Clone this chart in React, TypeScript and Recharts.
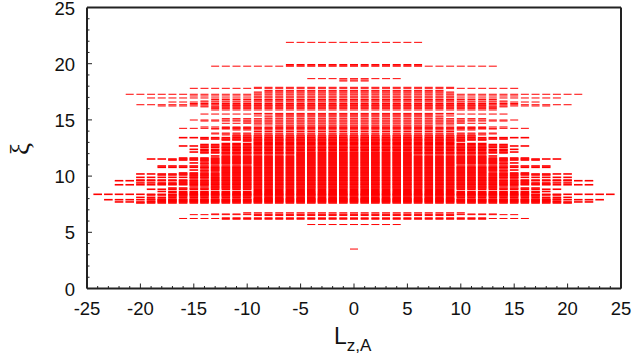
import React from 'react';
import { ScatterChart, Scatter, XAxis, YAxis, ReferenceLine, Label } from 'recharts';

// each row of dashes sits at one xi value and runs over integer Lz from -span to +span
const XI_ROWS = [
  21.9, 19.93, 19.82, 19.78, 18.67, 18.55, 18.46, 17.9, 17.81, 17.57, 17.48, 17.28, 17.13, 16.95, 16.81,
  16.68, 16.59, 16.46, 16.35, 16.24, 16.16, 16.08, 16.0, 15.88, 15.52, 15.44, 15.35, 15.26, 15.11, 14.99,
  14.9, 14.81, 14.7, 14.55, 14.46, 14.37, 14.25, 14.19, 14.1, 13.97, 13.83, 13.75, 13.66, 13.57,
  13.42, 13.3, 13.21, 13.12, 12.99, 12.9, 12.81, 12.68, 12.56, 12.5, 12.38, 12.28, 12.14, 12.06, 11.97,
  11.88, 11.79, 11.7, 11.61, 11.52, 11.43, 11.34, 11.25, 11.17, 11.08, 10.99, 10.9, 10.78, 10.72, 10.63,
  10.54, 10.45, 10.36, 10.28, 10.19, 10.1, 10.01, 9.89, 9.83, 9.74, 9.65, 9.59, 9.48, 9.39, 9.3,
  9.23, 9.12, 9.03, 8.94, 8.83, 8.72, 8.63, 8.54, 8.45, 8.38, 8.32, 8.23, 8.11, 8.02, 7.96,
  7.9, 7.83, 7.77, 7.7, 7.61, 6.74, 6.63, 6.57, 6.49, 6.29, 6.23, 6.16, 5.69, 3.51,
  17.63, 17.39, 17.04, 16.77, 16.3, 15.58, 14.31,
];
const ROW_SPANS = [
  6, 6, 6, 13, 4, 1, 1, 9, 15, 8, 9, 21, 15, 19, 13,
  14, 17, 15, 20, 18, 14, 13, 13, 13, 14, 7, 9, 8, 12, 15,
  14, 10, 12, 9, 7, 14, 16, 13, 11, 9, 13, 13, 12, 11,
  16, 14, 12, 10, 9, 12, 14, 16, 14, 12, 15, 14, 15, 14, 12,
  5, 13, 12, 16, 19, 17, 14, 13, 15, 14, 9, 18, 18, 14, 13,
  15, 14, 12, 16, 20, 18, 15, 20, 15, 13, 20, 22, 16, 20, 18,
  22, 15, 13, 17, 19, 9, 18, 17, 16, 24, 19, 17, 20, 9, 19,
  23, 18, 19, 22, 20, 10, 13, 15, 9, 12, 16, 12, 4, 0,
  8, 9, 9, 9, 12, 9, 12,
];

const X_TICKS = [
  -25, -24, -23, -22, -21, -20, -19, -18, -17, -16, -15, -14, -13, -12, -11, -10, -9, -8, -7, -6, -5, -4, -3, -2, -1,
  0, 1, 2, 3, 4, 5, 6, 7, 8, 9, 10, 11, 12, 13, 14, 15, 16, 17, 18, 19, 20, 21, 22, 23, 24, 25,
];
const Y_TICKS = [0, 1, 2, 3, 4, 5, 6, 7, 8, 9, 10, 11, 12, 13, 14, 15, 16, 17, 18, 19, 20, 21, 22, 23, 24, 25];

const points = XI_ROWS.flatMap((xi, i) =>
  X_TICKS.filter((l) => Math.abs(l) <= ROW_SPANS[i]).map((l) => ({ l, xi }))
);
// the rows above about 13.6 are drawn fainter in the original, they don't merge into a solid block
const upperPoints = points.filter((p) => p.xi > 13.6 || p.xi < 7);
const lowerPoints = points.filter((p) => p.xi <= 13.6 && p.xi >= 7);

const FONT = '"Liberation Sans", Arial, sans-serif';
const AXIS_COLOR = '#222';

const ThinDash = ({ cx, cy }: any) => (
  <line x1={cx - 4} x2={cx + 4} y1={cy} y2={cy} stroke="#ff0000" strokeWidth={1} />
);

const Dash = ({ cx, cy }: any) => (
  <line x1={cx - 4.3} x2={cx + 4.3} y1={cy} y2={cy} stroke="#ff0000" strokeWidth={1.6} />
);

const XTick = ({ x, y, payload }: any) => {
  const major = payload.value % 5 === 0;
  return (
    <g>
      <line x1={x} x2={x} y1={y} y2={y - (major ? 5 : 2.5)} stroke={AXIS_COLOR} strokeWidth={1} />
      {major && (
        <text x={x} y={y + 26.5} textAnchor="middle" fontFamily={FONT} fontSize={18.5} fill="#111">
          {payload.value}
        </text>
      )}
    </g>
  );
};

const YTick = ({ x, y, payload }: any) => {
  const major = payload.value % 5 === 0;
  return (
    <g>
      <line x1={x} x2={x + (major ? 5 : 2.5)} y1={y} y2={y} stroke={AXIS_COLOR} strokeWidth={1} />
      {major && (
        <text x={x - 12} y={y + 7} textAnchor="end" fontFamily={FONT} fontSize={18.5} fill="#111">
          {payload.value}
        </text>
      )}
    </g>
  );
};

const XTitle = ({ viewBox }: any) => {
  const x = viewBox.x + viewBox.width / 2 - 20;
  const y = viewBox.y + 55.5;
  return (
    <text x={x} y={y} fontFamily={FONT} fontSize={23} fill="#111">
      L
      <tspan dy={7} fontSize={17}>z,A</tspan>
    </text>
  );
};

const YTitle = () => (
  <text
    x={0}
    y={0}
    transform="translate(29 149) rotate(-90)"
    textAnchor="middle"
    fontFamily='"Liberation Serif", serif'
    fontSize={27}
    fill="#111"
  >
    ξ
  </text>
);

export default function App() {
  return (
    <div style={{ position: 'absolute', left: 0, top: 0, width: 634, height: 358, background: '#fff' }}>
      <ScatterChart width={634} height={358} margin={{ top: 7.5, right: 13, bottom: 0, left: 0 }}>
        <XAxis
          type="number"
          dataKey="l"
          domain={[-25, 25]}
          ticks={X_TICKS}
          interval={0}
          height={69.5}
          tickSize={0}
          tickMargin={0}
          tickLine={false}
          tick={<XTick />}
          axisLine={{ stroke: AXIS_COLOR, strokeWidth: 2 }}
        >
          <Label content={<XTitle />} />
        </XAxis>
        <YAxis
          type="number"
          dataKey="xi"
          domain={[0, 25]}
          ticks={Y_TICKS}
          interval={0}
          width={87}
          tickSize={0}
          tickMargin={0}
          tickLine={false}
          tick={<YTick />}
          axisLine={{ stroke: AXIS_COLOR, strokeWidth: 2 }}
        >
          <Label content={<YTitle />} />
        </YAxis>
        <ReferenceLine x={25} stroke={AXIS_COLOR} strokeWidth={2} />
        <ReferenceLine y={25} stroke={AXIS_COLOR} strokeWidth={2} />
        <Scatter data={upperPoints} shape={<ThinDash />} isAnimationActive={false} />
        <Scatter data={lowerPoints} shape={<Dash />} isAnimationActive={false} />
      </ScatterChart>
    </div>
  );
}
